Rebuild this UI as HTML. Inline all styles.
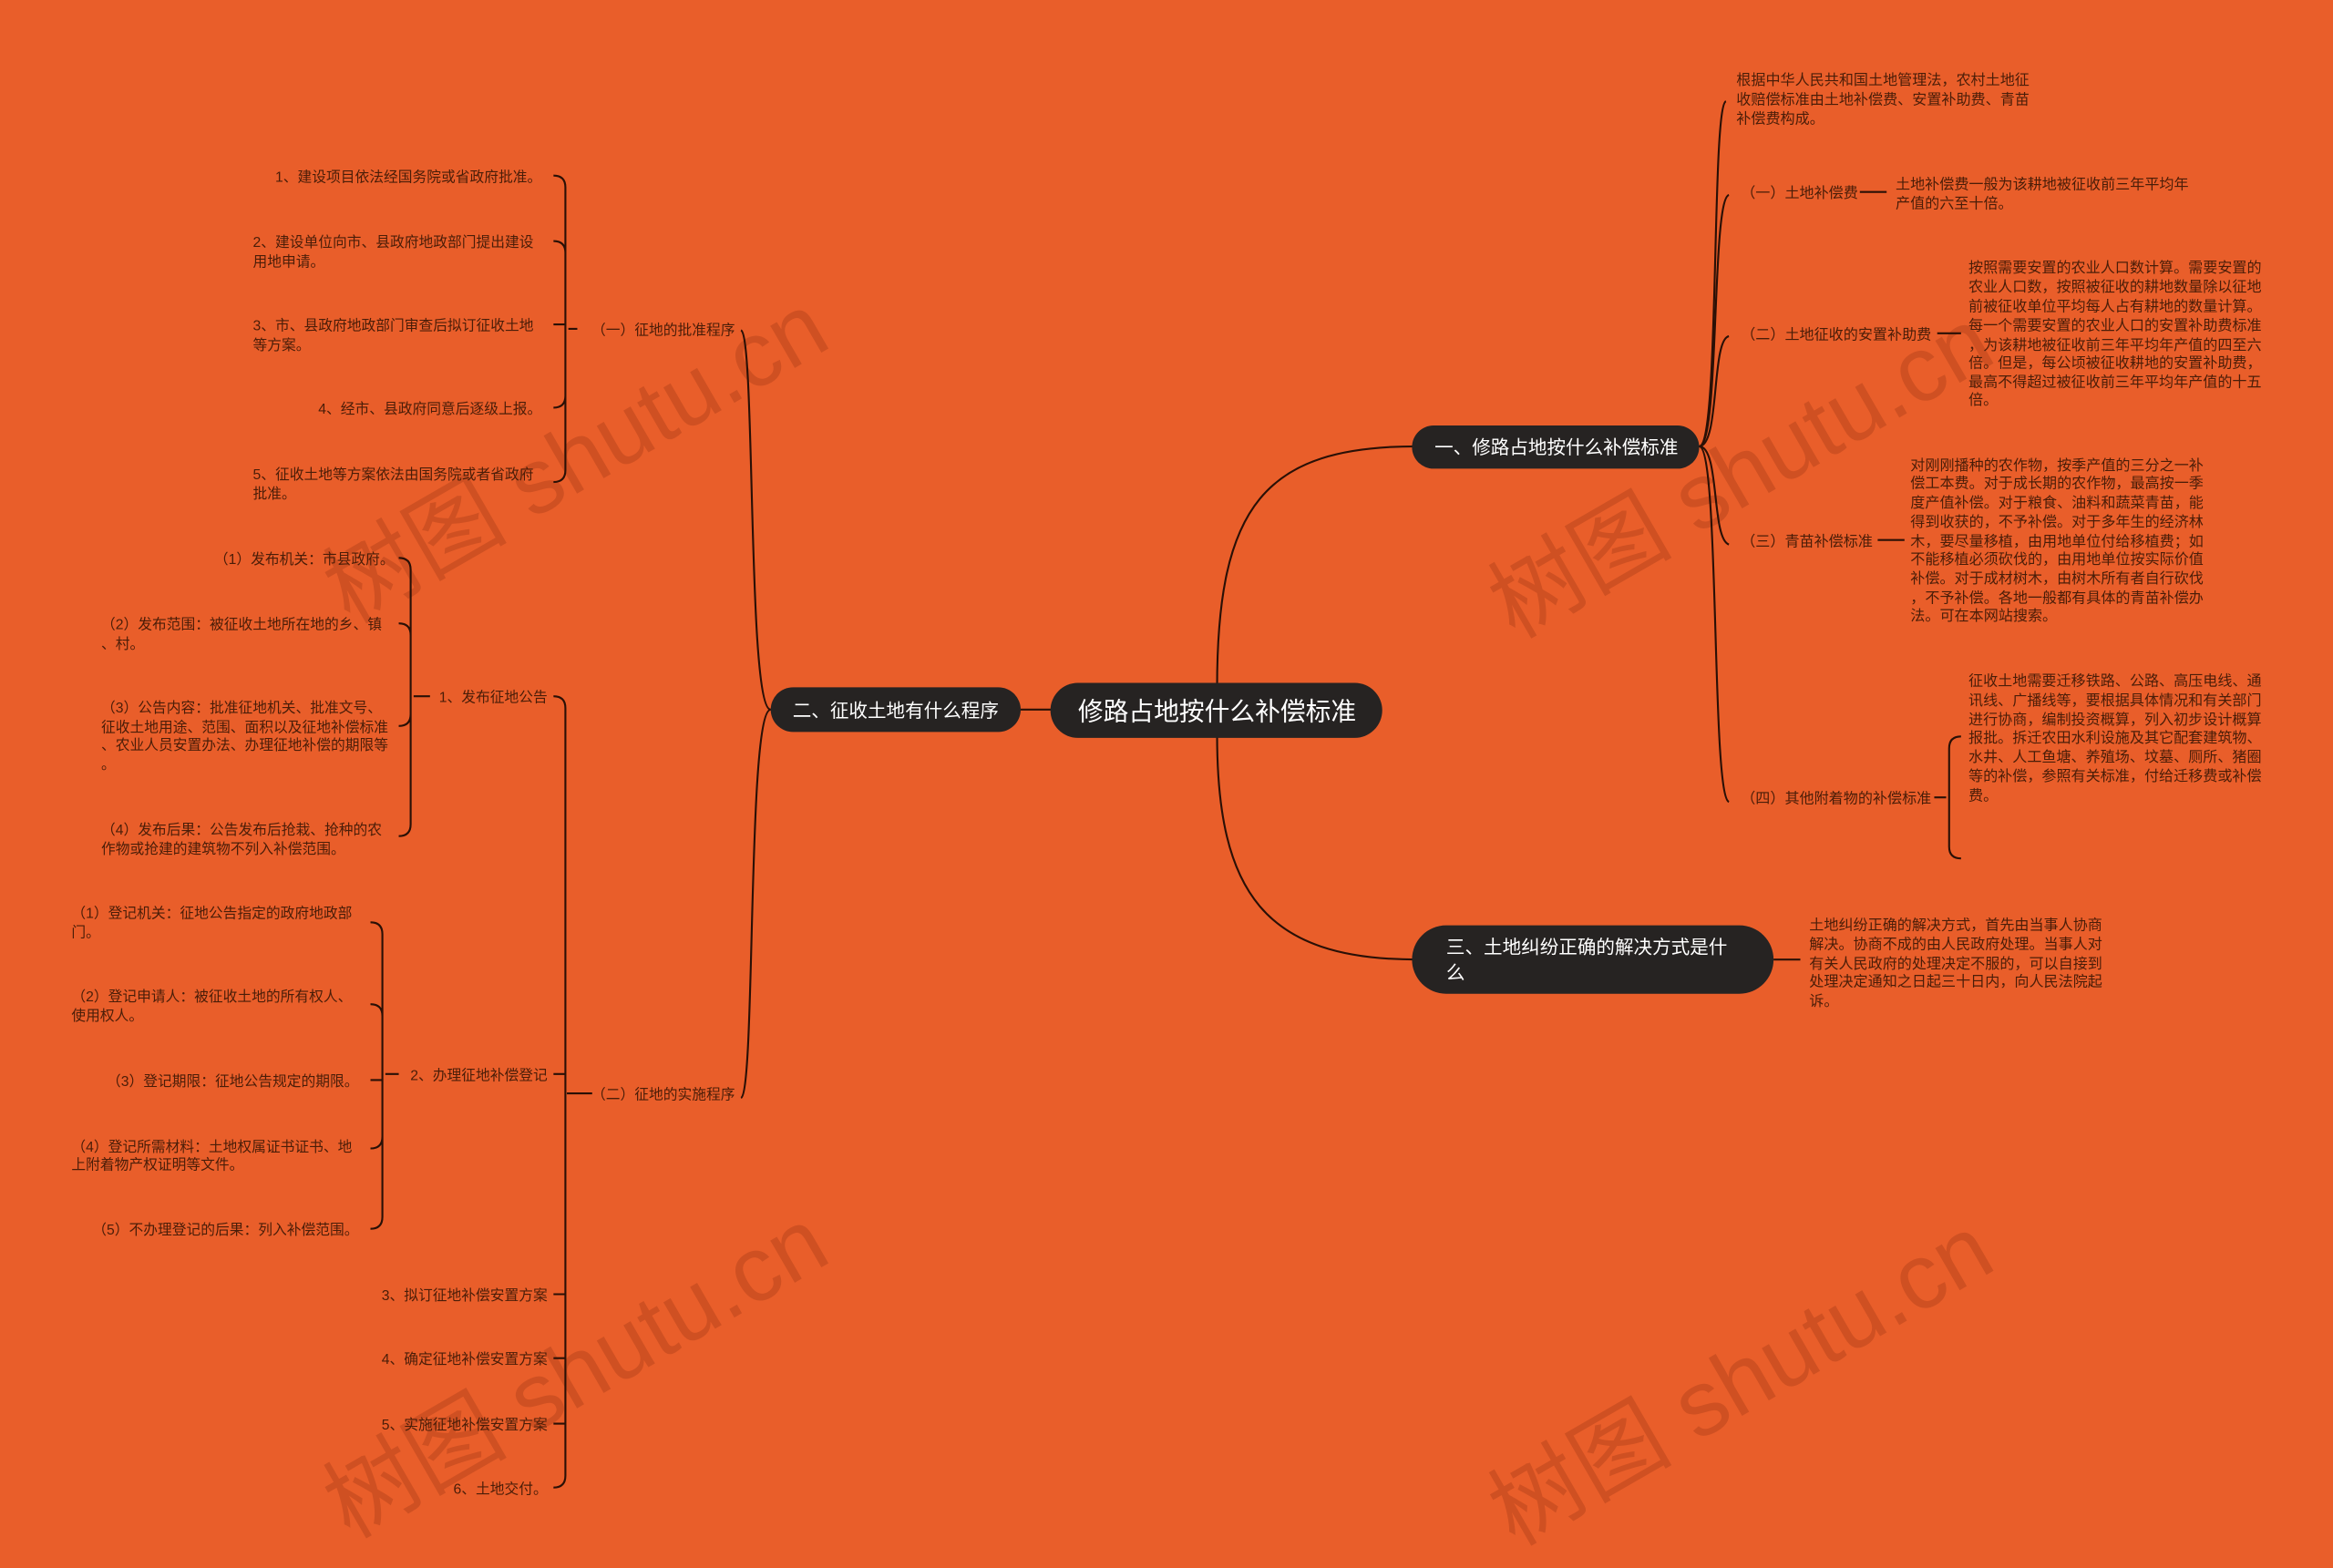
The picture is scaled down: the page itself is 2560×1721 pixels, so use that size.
<!DOCTYPE html>
<html><head><meta charset="utf-8"><style>
html,body{margin:0;padding:0;background:#E95E2A;}
svg{display:block}
text{font-family:"Liberation Sans","Noto Sans CJK SC",sans-serif;}
.t{font-size:9.65px;fill:#4a1d08;}
.r{font-size:9.85px;}
.n{fill:#fff;}
.l{fill:none;stroke:#2a1006;stroke-width:1.3;}
.w{font-family:"Liberation Serif","Noto Serif CJK SC",serif;font-size:62px;fill:rgba(140,45,15,0.28);}
</style></head><body>
<svg width="2560" height="1721" viewBox="0 0 1568 1054" xmlns="http://www.w3.org/2000/svg">
<rect width="1568" height="1054" fill="#E95E2A"/>
<g class="w">
<text transform="translate(235,420) rotate(-30)">树图 shutu.cn</text>
<text transform="translate(1018,430) rotate(-30)">树图 shutu.cn</text>
<text transform="translate(235,1035) rotate(-30)">树图 shutu.cn</text>
<text transform="translate(1018,1040) rotate(-30)">树图 shutu.cn</text>
</g>

<path class="l" d="M818,462 C818,340 850,300 952,300"/>
<path class="l" d="M818,494 C818,600 850,645 952,645"/>
<path class="l" d="M686,477 L708,477"/>

<rect x="706" y="459" width="223" height="37" rx="18.5" fill="#262322"/>
<text x="818" y="484" class="n" font-size="17" text-anchor="middle">修路占地按什么补偿标准</text>

<rect x="949" y="286" width="193" height="29" rx="14.5" fill="#262322"/>
<text x="1046" y="305" class="n" font-size="12.6" text-anchor="middle">一、修路占地按什么补偿标准</text>
<path class="l" d="M1142,300 C1156,300 1150,72 1160,68"/>
<path class="l" d="M1142,300 C1156,300 1150,134 1162,131"/>
<path class="l" d="M1142,300 C1156,300 1150,228 1162,226"/>
<path class="l" d="M1142,300 C1156,300 1150,362 1162,366"/>
<path class="l" d="M1142,300 C1156,300 1150,535 1162,539"/>

<g class="t r">
<text x="1167" y="57">根据中华人民共和国土地管理法，农村土地征</text>
<text x="1167" y="70">收赔偿标准由土地补偿费、安置补助费、青苗</text>
<text x="1167" y="83">补偿费构成。</text>

<text x="1170" y="133">（一）土地补偿费</text>
<text x="1274" y="127">土地补偿费一般为该耕地被征收前三年平均年</text>
<text x="1274" y="140">产值的六至十倍。</text>

<text x="1170" y="228">（二）土地征收的安置补助费</text>
<text x="1323" y="183">按照需要安置的农业人口数计算。需要安置的</text>
<text x="1323" y="196">农业人口数，按照被征收的耕地数量除以征地</text>
<text x="1323" y="209">前被征收单位平均每人占有耕地的数量计算。</text>
<text x="1323" y="222">每一个需要安置的农业人口的安置补助费标准</text>
<text x="1323" y="235">，为该耕地被征收前三年平均年产值的四至六</text>
<text x="1323" y="247">倍。但是，每公顷被征收耕地的安置补助费，</text>
<text x="1323" y="260">最高不得超过被征收前三年平均年产值的十五</text>
<text x="1323" y="272">倍。</text>

<text x="1170" y="367">（三）青苗补偿标准</text>
<text x="1284" y="316">对刚刚播种的农作物，按季产值的三分之一补</text>
<text x="1284" y="328">偿工本费。对于成长期的农作物，最高按一季</text>
<text x="1284" y="341">度产值补偿。对于粮食、油料和蔬菜青苗，能</text>
<text x="1284" y="354">得到收获的，不予补偿。对于多年生的经济林</text>
<text x="1284" y="367">木，要尽量移植，由用地单位付给移植费；如</text>
<text x="1284" y="379">不能移植必须砍伐的，由用地单位按实际价值</text>
<text x="1284" y="392">补偿。对于成材树木，由树木所有者自行砍伐</text>
<text x="1284" y="405">，不予补偿。各地一般都有具体的青苗补偿办</text>
<text x="1284" y="417">法。可在本网站搜索。</text>

<text x="1170" y="540">（四）其他附着物的补偿标准</text>
<text x="1323" y="461">征收土地需要迁移铁路、公路、高压电线、通</text>
<text x="1323" y="474">讯线、广播线等，要根据具体情况和有关部门</text>
<text x="1323" y="487">进行协商，编制投资概算，列入初步设计概算</text>
<text x="1323" y="499">报批。拆迁农田水利设施及其它配套建筑物、</text>
<text x="1323" y="512">水井、人工鱼塘、养殖场、坟墓、厕所、猪圈</text>
<text x="1323" y="525">等的补偿，参照有关标准，付给迁移费或补偿</text>
<text x="1323" y="538">费。</text>
</g>
<path class="l" d="M1250,129 L1268,129"/>
<path class="l" d="M1302,224 L1318,224"/>
<path class="l" d="M1262,363 L1280,363"/>
<path class="l" d="M1300,536 L1308,536 M1318,495 Q1310,495 1310,503 L1310,569 Q1310,577 1318,577"/>

<rect x="949" y="622" width="243" height="46" rx="23" fill="#262322"/>
<text x="972" y="641" class="n" font-size="12.6">三、土地纠纷正确的解决方式是什</text>
<text x="972" y="658" class="n" font-size="12.6">么</text>
<path class="l" d="M1192,645 L1210,645"/>
<g class="t r">
<text x="1216" y="625">土地纠纷正确的解决方式，首先由当事人协商</text>
<text x="1216" y="638">解决。协商不成的由人民政府处理。当事人对</text>
<text x="1216" y="651">有关人民政府的处理决定不服的，可以自接到</text>
<text x="1216" y="663">处理决定通知之日起三十日内，向人民法院起</text>
<text x="1216" y="676">诉。</text>
</g>

<rect x="518" y="462" width="168" height="30" rx="15" fill="#262322"/>
<text x="602" y="482" class="n" font-size="12.6" text-anchor="middle">二、征收土地有什么程序</text>
<path class="l" d="M518,477 C502,477 508,226 498,222"/>
<path class="l" d="M518,477 C502,477 508,734 498,738"/>

<g class="t">
<text x="494" y="225" text-anchor="end">（一）征地的批准程序</text>
<text x="494" y="739" text-anchor="end">（二）征地的实施程序</text>

<text x="364" y="122" text-anchor="end">1、建设项目依法经国务院或省政府批准。</text>
<text x="170" y="166">2、建设单位向市、县政府地政部门提出建设</text>
<text x="170" y="179">用地申请。</text>
<text x="170" y="222">3、市、县政府地政部门审查后拟订征收土地</text>
<text x="170" y="235">等方案。</text>
<text x="364" y="278" text-anchor="end">4、经市、县政府同意后逐级上报。</text>
<text x="170" y="322">5、征收土地等方案依法由国务院或者省政府</text>
<text x="170" y="335">批准。</text>

<text x="368" y="472" text-anchor="end">1、发布征地公告</text>
<text x="368" y="726" text-anchor="end">2、办理征地补偿登记</text>
<text x="368" y="874" text-anchor="end">3、拟订征地补偿安置方案</text>
<text x="368" y="917" text-anchor="end">4、确定征地补偿安置方案</text>
<text x="368" y="961" text-anchor="end">5、实施征地补偿安置方案</text>
<text x="368" y="1004" text-anchor="end">6、土地交付。</text>

<text x="265" y="379" text-anchor="end">（1）发布机关：市县政府。</text>
<text x="68" y="423">（2）发布范围：被征收土地所在地的乡、镇</text>
<text x="68" y="436">、村。</text>
<text x="68" y="479">（3）公告内容：批准征地机关、批准文号、</text>
<text x="68" y="492">征收土地用途、范围、面积以及征地补偿标准</text>
<text x="68" y="504">、农业人员安置办法、办理征地补偿的期限等</text>
<text x="68" y="517">。</text>
<text x="68" y="561">（4）发布后果：公告发布后抢栽、抢种的农</text>
<text x="68" y="574">作物或抢建的建筑物不列入补偿范围。</text>

<text x="48" y="617">（1）登记机关：征地公告指定的政府地政部</text>
<text x="48" y="630">门。</text>
<text x="48" y="673">（2）登记申请人：被征收土地的所有权人、</text>
<text x="48" y="686">使用权人。</text>
<text x="241" y="730" text-anchor="end">（3）登记期限：征地公告规定的期限。</text>
<text x="48" y="774">（4）登记所需材料：土地权属证书证书、地</text>
<text x="48" y="786">上附着物产权证明等文件。</text>
<text x="241" y="830" text-anchor="end">（5）不办理登记的后果：列入补偿范围。</text>
</g>

<path class="l" d="M388,221 L382,221 M372,118 Q380,118 380,126 L380,316 Q380,324 372,324 M372,162 Q380,162 380,170 M372,218 L380,218 M372,274 Q380,274 380,266"/>
<path class="l" d="M398,735 L381,735 M372,468 Q380,468 380,476 L380,992 Q380,1000 372,1000 M372,722 L380,722 M372,870 L380,870 M372,913 L380,913 M372,957 L380,957"/>
<path class="l" d="M289,468 L278,468 M268,375 Q276,375 276,383 L276,554 Q276,562 268,562 M268,419 Q276,419 276,427 M268,488 Q276,488 276,480"/>
<path class="l" d="M268,722 L259,722 M249,620 Q257,620 257,628 L257,818 Q257,826 249,826 M249,675 Q257,675 257,683 M249,726 L257,726 M249,772 Q257,772 257,764"/>
</svg>
</body></html>
